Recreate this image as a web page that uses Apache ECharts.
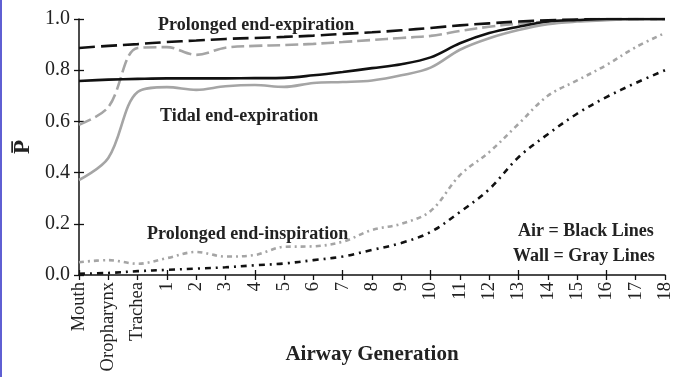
<!DOCTYPE html>
<html><head><meta charset="utf-8">
<script src="https://cdn.jsdelivr.net/npm/echarts@6/dist/echarts.min.js"></script>
<style>
html,body{margin:0;padding:0;background:#fff;}
#bar{position:absolute;left:0;top:0;width:2px;height:377px;background:#5f5fd3;}
#chart{position:absolute;left:0;top:0;width:677px;height:377px;}
</style></head>
<body><div id="chart"></div><div id="bar"></div>
<script>
const categories = ['Mouth','Oropharynx','Trachea','1','2','3','4','5','6','7','8','9','10','11','12','13','14','15','16','17','18'];
const yTicks = [0, 0.2, 0.4, 0.6, 0.8, 1.0];
// Prolonged end-expiration
const prolongedExpAir  = [0.887,0.895,0.902,0.91,0.916,0.922,0.926,0.93,0.935,0.942,0.948,0.956,0.965,0.975,0.983,0.99,0.995,0.998,1.0,1.0,1.0];
const prolongedExpWall = [0.587,0.656,0.887,0.89,0.86,0.888,0.895,0.898,0.903,0.91,0.918,0.926,0.934,0.953,0.97,0.982,0.99,0.995,0.998,1.0,1.0];
// Tidal end-expiration
const tidalExpAir  = [0.758,0.763,0.766,0.768,0.768,0.768,0.769,0.77,0.78,0.793,0.808,0.823,0.85,0.905,0.945,0.97,0.99,0.996,1.0,1.0,1.0];
const tidalExpWall = [0.371,0.457,0.715,0.734,0.723,0.737,0.742,0.735,0.75,0.754,0.76,0.78,0.81,0.88,0.925,0.957,0.98,0.99,0.995,1.0,1.0];
// Prolonged end-inspiration
const prolongedInspAir  = [0.005,0.008,0.015,0.02,0.025,0.03,0.038,0.045,0.058,0.072,0.098,0.125,0.168,0.246,0.335,0.46,0.55,0.63,0.695,0.75,0.80];
const prolongedInspWall = [0.05,0.058,0.044,0.066,0.09,0.072,0.078,0.11,0.112,0.13,0.176,0.2,0.25,0.39,0.48,0.59,0.70,0.76,0.82,0.89,0.945];

const FONT = '"Liberation Serif","Times New Roman",serif';
const BLACK = '#111111', GRAY = '#a5a5a5';
const chart = echarts.init(document.getElementById('chart'));
function line(name, data, color, type, width){
  return {name, type:'line', data, smooth:0.35, symbol:'none', xAxisIndex:0, yAxisIndex:0,
    lineStyle:{color, width, type, cap:'butt'}};
}
chart.setOption({
  animation:false,
  grid:{left:79, right:12, top:19, bottom:102, containLabel:false, outerBoundsMode:'none'},
  xAxis:[{
    type:'category', data:categories, boundaryGap:false,
    axisLine:{lineStyle:{color:BLACK, width:1.5}},
    axisTick:{length:5, inside:false, lineStyle:{color:BLACK, width:1.3}},
    axisLabel:{rotate:90, fontFamily:FONT, fontSize:18.5, color:'#222', margin:7},
    name:'Airway Generation', nameLocation:'middle', nameGap:69, nameMoveOverlap:false,
    nameTextStyle:{fontFamily:FONT, fontSize:21, fontWeight:'bold', color:'#222'}
  },{
    type:'category', data:categories, boundaryGap:false, position:'bottom',
    axisLine:{show:false}, axisLabel:{show:false},
    axisTick:{length:5, inside:true, lineStyle:{color:BLACK, width:1.3}}
  }],
  yAxis:[{
    type:'value', min:yTicks[0], max:yTicks[yTicks.length-1], interval:0.2,
    splitLine:{show:false},
    axisLine:{show:true, lineStyle:{color:BLACK, width:1.5}},
    axisTick:{show:true, length:5, lineStyle:{color:BLACK, width:1.3}},
    axisLabel:{fontFamily:FONT, fontSize:20, color:'#222', margin:9, formatter:v=>v.toFixed(1)},
    name:'P\u0305', nameLocation:'middle', nameGap:44, nameRotate:90, nameMoveOverlap:false,
    nameTextStyle:{fontFamily:FONT, fontSize:23, fontWeight:'bold', color:'#222'}
  },{
    type:'value', min:yTicks[0], max:yTicks[yTicks.length-1], interval:0.2, position:'left',
    splitLine:{show:false}, axisLine:{show:false}, axisLabel:{show:false},
    axisTick:{show:true, inside:true, length:5, lineStyle:{color:BLACK, width:1.3}}
  }],
  series:[
    line('Prolonged end-expiration wall', prolongedExpWall, GRAY, [13,5], 2.6),
    line('Prolonged end-expiration air', prolongedExpAir, BLACK, [16,6], 2.6),
    line('Tidal end-expiration wall', tidalExpWall, GRAY, 'solid', 2.6),
    line('Tidal end-expiration air', tidalExpAir, BLACK, 'solid', 2.6),
    line('Prolonged end-inspiration wall', prolongedInspWall, GRAY, [5,4,2,4], 2.6),
    line('Prolonged end-inspiration air', prolongedInspAir, BLACK, [6,5,2,5], 2.6)
  ],
  graphic:[
    {type:'text', left:158, top:16, style:{text:'Prolonged end-expiration', font:'bold 18px '+FONT, fill:'#222'}},
    {type:'text', left:160, top:107, style:{text:'Tidal end-expiration', font:'bold 18px '+FONT, fill:'#222'}},
    {type:'text', left:147, top:225, style:{text:'Prolonged end-inspiration', font:'bold 18px '+FONT, fill:'#222'}},
    {type:'text', left:518, top:222, style:{text:'Air = Black Lines', font:'bold 18px '+FONT, fill:'#222'}},
    {type:'text', left:513, top:247, style:{text:'Wall = Gray Lines', font:'bold 18px '+FONT, fill:'#222'}}
  ]
});
</script></body></html>
